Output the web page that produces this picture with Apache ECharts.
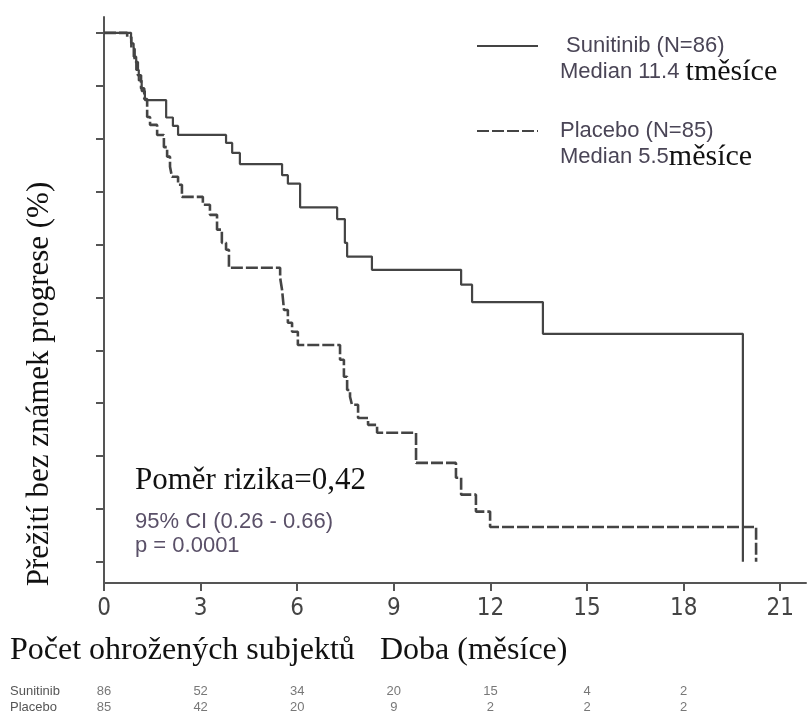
<!DOCTYPE html>
<html>
<head>
<meta charset="utf-8">
<script src="https://cdn.jsdelivr.net/npm/echarts@6/dist/echarts.min.js"></script>
<style>html,body{margin:0;padding:0;background:#fff}#c{width:808px;height:726px}</style>
</head>
<body>
<div id="c"></div>
<script>
// ---- data ----
const sunTime = [0, 0.84, 0.92, 1.0, 1.08, 1.17, 1.27, 1.93, 2.14, 2.30, 3.79, 3.98, 4.22, 5.53, 5.71, 6.09, 7.24, 7.48, 7.55, 8.32, 11.09, 11.43, 13.63, 19.84];
const sunSurv = [100, 98, 95.5, 93, 91, 89, 87.3, 84.0, 82.4, 80.7, 79.2, 77.3, 75.2, 73.1, 71.5, 67.0, 64.8, 60.3, 57.7, 55.2, 52.4, 49.1, 43.1, 0];
const plaTime = [0, 0.72, 0.85, 0.95, 1.05, 1.15, 1.25, 1.34, 1.43, 1.65, 1.86, 1.96, 2.05, 2.11, 2.30, 2.42, 3.07, 3.29, 3.51, 3.66, 3.79, 3.88, 5.47, 5.53, 5.59, 5.71, 5.84, 6.02, 7.33, 7.45, 7.55, 7.64, 7.70, 7.89, 8.20, 8.48, 9.69, 10.93, 11.09, 11.55, 11.99, 20.25];
const plaSurv = [100, 99.2, 97, 94.5, 92, 89.5, 87.5, 84.1, 82.6, 80.7, 78.4, 76.6, 74.7, 72.8, 71.3, 69.0, 67.5, 65.6, 62.8, 60.3, 59.0, 55.6, 53.7, 51.4, 47.6, 45.2, 43.5, 41.0, 38.2, 35.0, 32.5, 31.2, 29.7, 27.2, 25.9, 24.4, 18.7, 15.9, 12.7, 9.5, 6.6, 0];
const xTicks = [0, 3, 6, 9, 12, 15, 18, 21];
const yTicks = [0, 10, 20, 30, 40, 50, 60, 70, 80, 90, 100];
const riskTimes = [0, 3, 6, 9, 12, 15, 18];
const sunRisk = [86, 52, 34, 20, 15, 4, 2];
const plaRisk = [85, 42, 20, 9, 2, 2, 2];
const riskRows = ['Placebo', 'Sunitinib'];

const SERIF = "'Liberation Serif','Times New Roman',serif";
const SANS = "'Liberation Sans',Arial,sans-serif";
const NARROW = "'Liberation Sans Narrow','Arial Narrow','DejaVu Sans Condensed',sans-serif";
const AX = '#555';

const chart = echarts.init(document.getElementById('c'));
const zip = (a, b) => a.map((t, i) => [t, b[i]]);
const riskLabel = { show: true, position: 'inside', formatter: p => String(p.value[2]), color: '#555', fontFamily: SANS, fontSize: 13 };

chart.setOption({
  animation: false,
  backgroundColor: '#fff',
  grid: [
    { left: 104, top: 17, width: 702, height: 566 },
    { left: 104, top: 683, width: 702, height: 32 }
  ],
  xAxis: [
    {
      gridIndex: 0, type: 'value', min: 0, max: 21.8,
      axisLine: { show: true, onZero: false, lineStyle: { color: AX, width: 2 } },
      axisTick: { show: true, length: 8, customValues: xTicks, lineStyle: { color: AX, width: 2 } },
      axisLabel: { customValues: xTicks, margin: 14, color: '#444', fontFamily: NARROW, fontSize: 24 },
      splitLine: { show: false }
    },
    { gridIndex: 1, type: 'value', min: 0, max: 21.8, show: false }
  ],
  yAxis: [
    {
      gridIndex: 0, type: 'value', min: -4, max: 103,
      axisLine: { show: true, onZero: false, lineStyle: { color: AX, width: 2 } },
      axisTick: { show: true, length: 8, customValues: yTicks, lineStyle: { color: AX, width: 2 } },
      axisLabel: { show: false },
      splitLine: { show: false }
    },
    {
      gridIndex: 1, type: 'category', data: riskRows,
      axisLine: { show: false }, axisTick: { show: false }, splitLine: { show: false },
      axisLabel: { interval: 0, align: 'left', margin: 94, color: '#555', fontFamily: SANS, fontSize: 13 }
    }
  ],
  legend: {
    orient: 'vertical', left: 471, top: 30, itemWidth: 61, itemHeight: 12, itemGap: 33,
    data: ['Sunitinib', 'Placebo'],
    itemStyle: { opacity: 0 },
    formatter: function (name) {
      if (name === 'Sunitinib') return '{a| Sunitinib (N=86)}\n{a|Median 11.4 }{b|tměsíce}';
      return '{a|Placebo (N=85)}\n{a|Median 5.5}{b|měsíce}';
    },
    textStyle: {
      padding: [26, 0, 0, 17],
      rich: {
        a: { fontFamily: SANS, fontSize: 22, color: '#4a4556', lineHeight: 26 },
        b: { fontFamily: SERIF, fontSize: 30, color: '#111', lineHeight: 26 }
      }
    }
  },
  series: [
    {
      name: 'Sunitinib', type: 'line', step: 'end', xAxisIndex: 0, yAxisIndex: 0,
      data: zip(sunTime, sunSurv), symbol: 'none',
      lineStyle: { color: '#444', width: 2.2 }, itemStyle: { color: '#444' }
    },
    {
      name: 'Placebo', type: 'line', step: 'end', xAxisIndex: 0, yAxisIndex: 0,
      data: zip(plaTime, plaSurv), symbol: 'none',
      lineStyle: { color: '#444', width: 2.6, type: [12, 3] }, itemStyle: { color: '#444' }
    },
    {
      name: 'riskSun', type: 'scatter', xAxisIndex: 1, yAxisIndex: 1,
      data: riskTimes.map((t, i) => [t, 'Sunitinib', sunRisk[i]]),
      symbolSize: 2, itemStyle: { color: 'rgba(0,0,0,0)' },
      label: riskLabel
    },
    {
      name: 'riskPla', type: 'scatter', xAxisIndex: 1, yAxisIndex: 1,
      data: riskTimes.map((t, i) => [t, 'Placebo', plaRisk[i]]),
      symbolSize: 2, itemStyle: { color: 'rgba(0,0,0,0)' },
      label: riskLabel
    }
  ],
  graphic: [
    { type: 'text', x: 40, y: 384, rotation: Math.PI / 2,
      style: { text: 'Přežití bez známek progrese (%)', font: '31px ' + SERIF, fill: '#111', align: 'center', verticalAlign: 'middle' } },
    { type: 'text', x: 135, y: 481,
      style: { text: 'Poměr rizika=0,42', font: '31px ' + SERIF, fill: '#111', align: 'left', verticalAlign: 'middle' } },
    { type: 'text', x: 135, y: 522,
      style: { text: '95% CI (0.26 - 0.66)', font: '22px ' + SANS, fill: '#5a5068', align: 'left', verticalAlign: 'middle' } },
    { type: 'text', x: 135, y: 546,
      style: { text: 'p = 0.0001', font: '22px ' + SANS, fill: '#5a5068', align: 'left', verticalAlign: 'middle' } },
    { type: 'text', x: 10, y: 651,
      style: { text: 'Počet ohrožených subjektů', font: '32px ' + SERIF, fill: '#111', align: 'left', verticalAlign: 'middle' } },
    { type: 'text', x: 380, y: 651,
      style: { text: 'Doba (měsíce)', font: '32px ' + SERIF, fill: '#111', align: 'left', verticalAlign: 'middle' } }
  ]
});
</script>
</body>
</html>
